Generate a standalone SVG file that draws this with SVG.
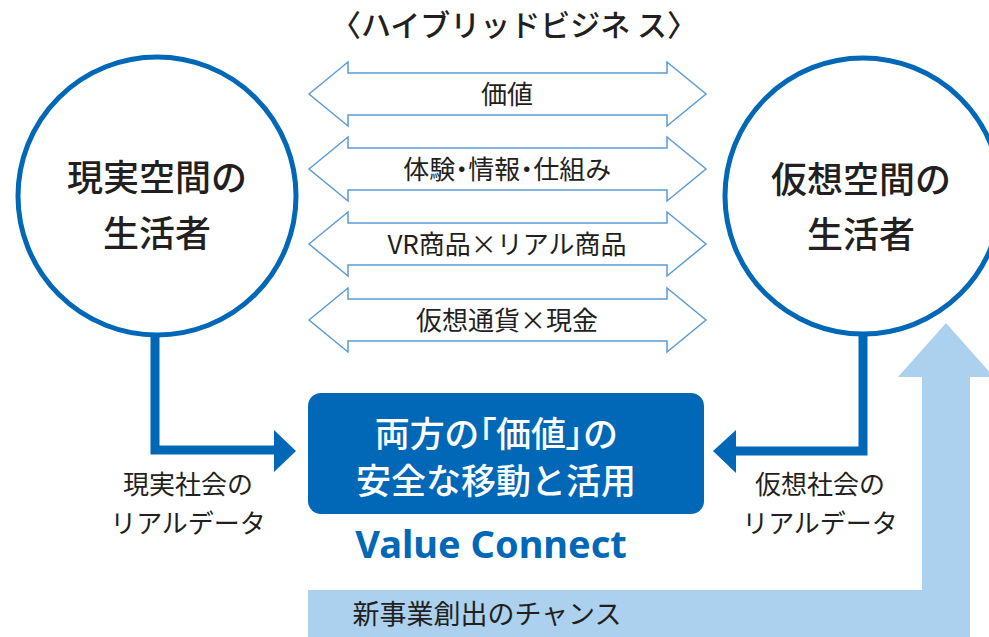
<svg xmlns="http://www.w3.org/2000/svg" width="989" height="637" viewBox="0 0 989 637">
<style>
.t{font-family:"Noto Sans CJK JP","Noto Sans",sans-serif;fill:#231f20;text-anchor:middle}
.p{font-feature-settings:"palt"}
.dbl{fill:#fff;stroke:#5b9bd5;stroke-width:1.5}
.circ{fill:#fff;stroke:#0068b7;stroke-width:5}
.conn{fill:none;stroke:#0068b7;stroke-width:9}
.head{fill:#0068b7}
</style>
<rect width="989" height="637" fill="#fff"/>
<g id="opportunity">
<path d="M308,590 L922,590 L922,377 L898,377 L946,323 L994,377 L970,377 L970,637 L308,637 Z" fill="#abd1ef"/>
<text class="t" x="487" y="624" font-size="27">新事業創出のチャンス</text>
</g>
<g id="title"><text class="t" x="514" y="36" font-size="30" font-weight="500">〈ハイブリッドビジネ ス〉</text></g>
<g id="exchanges">
<path class="dbl" d="M309,94 L348,62 L348,73 L667,73 L667,62 L706,94 L667,126 L667,115 L348,115 L348,126 Z"/>
<text class="t" x="507" y="104" font-size="26">価値</text>
<path class="dbl" d="M309,169 L348,137 L348,148 L667,148 L667,137 L706,169 L667,201 L667,190 L348,190 L348,201 Z"/>
<text class="t p" x="507" y="179" font-size="26">体験・情報・仕組み</text>
<path class="dbl" d="M309,244 L348,212 L348,223 L667,223 L667,212 L706,244 L667,276 L667,265 L348,265 L348,276 Z"/>
<text class="t" x="507" y="254" font-size="26">VR商品×リアル商品</text>
<path class="dbl" d="M309,320 L348,288 L348,299 L667,299 L667,288 L706,320 L667,352 L667,341 L348,341 L348,352 Z"/>
<text class="t" x="507" y="330" font-size="26">仮想通貨×現金</text>
</g>
<g id="connectors">
<path class="conn" d="M155,335 L155,450 L276,450"/>
<path class="head" d="M274,430 L296,451 L274,472 Z"/>
<path class="conn" d="M863,335 L863,451 L734,451"/>
<path class="head" d="M736,430 L713,451 L736,473 Z"/>
</g>
<g id="real">
<circle class="circ" cx="157" cy="196" r="139"/>
<text class="t" x="157" y="191" font-size="36" font-weight="500">現実空間の</text>
<text class="t" x="157" y="247" font-size="36" font-weight="500">生活者</text>
</g>
<g id="virtual">
<circle class="circ" cx="863" cy="196" r="138"/>
<text class="t" x="861" y="193" font-size="36" font-weight="500">仮想空間の</text>
<text class="t" x="861" y="248" font-size="36" font-weight="500">生活者</text>
</g>
<g id="real-data">
<text class="t" x="188" y="494" font-size="26">現実社会の</text>
<text class="t" x="188" y="533" font-size="26">リアルデータ</text>
</g>
<g id="virtual-data">
<text class="t" x="820" y="494" font-size="26">仮想社会の</text>
<text class="t" x="820" y="533" font-size="26">リアルデータ</text>
</g>
<g id="value-connect">
<rect x="308" y="393" width="396" height="121" rx="13" fill="#0068b7"/>
<text class="t p" x="496" y="447" font-size="35" font-weight="500" style="fill:#fff">両方の「価値」の</text>
<text class="t" x="496" y="494" font-size="35" font-weight="500" style="fill:#fff">安全な移動と活用</text>
<text x="491" y="558" font-size="38" font-weight="700" text-anchor="middle" font-family="'Noto Sans','Open Sans',sans-serif" fill="#0068b7">Value Connect</text>
</g>
</svg>
